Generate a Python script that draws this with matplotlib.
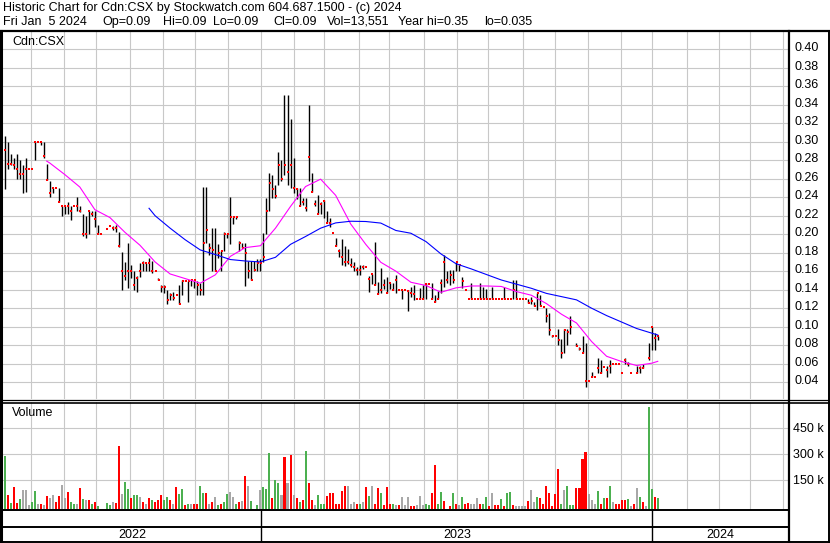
import matplotlib
matplotlib.use('Agg')
import matplotlib.pyplot as plt
from matplotlib.lines import Line2D
import numpy as np
import pandas as pd

plt.rcParams['font.family'] = 'Liberation Sans'
plt.rcParams['font.size'] = 9

nan = np.nan

# price bars, one entry per two trading days, from Fri May 6 2022 to Fri Jan 5 2024
hi = [.306, .300, .287, .282, .287, .280, .275, .282, .271, .271,
      .300, .300, .300, .300, .276, .258, .250, .250, .250, .231,
      .231, .235, .230, .230, .240, .231, .222, .220, .225, .225,
      .225, .210, .200, nan, .206, .209, .209, .210, .202, .181,
      .170, .191, .167, .160, .155, .169, .171, .169, .174, .171,
      .160, .153, .145, .145, .140, .136, .138, .134, .145, .151,
      .151, .149, .151, .151, .149, .147, .251, .251, .191, .207,
      .207, .189, .182, .202, .200, .240, .219, .219, .193, .191,
      .191, .171, .171, .171, .173, .173, .201, .239, .266, .264,
      .253, .289, .280, .351, .351, .325, .282, .250, .250, .239,
      .239, .340, .266, .237, .242, .235, .237, .225, .217, .201,
      .196, .184, .195, .187, .184, .174, .170, .165, .167, .167,
      .165, .155, .157, .192, .148, .163, .152, .154, .147, .147,
      .156, .140, .140, .140, .140, .143, .145, .130, .142, .145,
      .147, .146, .147, .134, .139, .152, .178, .160, .161, .161,
      .170, .167, .154, .140, .130, .147, .130, .130, .147, .143,
      .141, .130, .143, .130, .130, .130, .143, .130, .130, .150,
      .151, .130, .130, .130, .130, .132, .127, .136, .134, .121,
      .120, .115, .091, .090, .097, .087, .097, .097, .111, nan,
      .082, .078, .090, .082, .041, .051, .046, .066, .064, .056,
      .057, .064, .060, .060, .060, .050, .066, .062, .050, nan,
      .057, .057, .060, nan, .082, .100, .093, .090]
lo = [.249, .270, .275, .271, .260, .260, .245, .246, .271, .271,
      .280, .300, .296, .282, .259, .240, .245, .250, .235, .220,
      .222, .222, .215, .230, .225, .224, .198, .196, .200, .220,
      .208, .200, .200, nan, .206, .209, .205, .202, .186, .140,
      .150, .142, .153, .140, .138, .154, .160, .160, .160, .158,
      .160, .150, .138, .136, .125, .129, .129, .134, .124, .134,
      .149, .127, .144, .142, .134, .134, .134, .190, .178, .160,
      .160, .174, .160, .182, .196, .189, .211, .216, .182, .185,
      .144, .153, .151, .160, .160, .160, .170, .200, .225, .239,
      .239, .253, .257, .264, .253, .250, .245, .238, .231, .232,
      .225, .257, .246, .230, .222, .222, .218, .212, .208, .201,
      .187, .175, .167, .166, .168, .165, .160, .156, .156, .162,
      .165, .137, .146, .145, .135, .136, .141, .136, .141, .140,
      .136, .140, .130, .140, .117, .132, .129, .130, .130, .130,
      .130, .146, .130, .127, .130, .136, .143, .147, .145, .147,
      .160, .160, .142, .140, .130, .130, .130, .130, .130, .130,
      .130, .130, .130, .130, .130, .130, .130, .130, .130, .130,
      .130, .130, .130, .130, .126, .125, .122, .118, .122, .121,
      .105, .091, .089, .090, .080, .066, .071, .080, .092, nan,
      .079, .075, .071, .035, .041, .046, .046, .050, .050, .056,
      .046, .050, .060, .060, .060, .050, .060, .057, .050, nan,
      .050, .050, .055, nan, .064, .075, .075, .086]
cl = [.291, .276, .276, .275, .270, .265, .265, .271, .271, .271,
      .300, .300, .300, .285, .259, .245, .250, .250, .235, .230,
      .230, .230, .225, .230, .230, .225, .200, .200, .225, .222,
      .216, .200, .200, nan, .206, .209, .207, .207, .187, .160,
      .155, .160, .160, .145, .153, .160, .169, .169, .169, .160,
      .160, .150, .143, .143, .129, .134, .131, .134, .124, .149,
      .149, .149, .150, .150, .145, .140, .191, .205, .185, .183,
      .160, .180, .182, .200, .200, .219, .219, .219, .191, .185,
      .180, .160, .151, .161, .169, .169, .175, .225, .255, .249,
      .241, .275, .260, .275, .267, .275, .250, .249, .231, .235,
      .228, .283, .246, .233, .222, .233, .236, .212, .212, .201,
      .187, .182, .175, .170, .170, .167, .165, .161, .161, .165,
      .165, .152, .157, .145, .135, .140, .145, .136, .147, .140,
      .150, .140, .140, .140, .139, .136, .135, .130, .130, .130,
      .146, .146, .130, .127, .130, .147, .170, .150, .156, .150,
      .170, .167, .149, .140, .130, .130, .130, .130, .130, .130,
      .130, .130, .130, .130, .130, .130, .130, .130, .130, .140,
      .130, .130, .130, .130, .126, .128, .122, .136, .122, .121,
      .112, .096, .090, .090, .086, .071, .096, .094, .100, nan,
      .079, .076, .071, .041, .041, .046, .046, .055, .050, .056,
      .053, .058, .060, .060, .060, .050, .064, .060, .050, nan,
      .050, .055, .055, nan, .066, .100, .0875, .090]

# volume in thousands, colour g = up, r = down, n = unchanged
vol = [288, 62, 17, 110, 17, 40, 94, 94, 5, 23,
       90, 11, 11, 8, 58, 50, 63, 23, 58, 125,
       50, 81, 27, 11, 11, 104, 42, 38, 38, 11,
       23, 4, 0, 0, 17, 8, 23, 19, 348, 71,
       140, 100, 50, 63, 62, 56, 27, 11, 50, 37,
       23, 37, 65, 35, 52, 37, 15, 110, 69, 100,
       8, 15, 11, 11, 11, 115, 79, 75, 11, 23,
       52, 8, 11, 23, 71, 85, 52, 11, 23, 31,
       173, 117, 31, 0, 5, 92, 113, 100, 308, 46,
       150, 137, 65, 285, 133, 294, 65, 46, 23, 37,
       319, 137, 37, 8, 65, 11, 15, 58, 75, 79,
       11, 11, 88, 117, 117, 11, 23, 11, 11, 23,
       112, 60, 115, 11, 104, 75, 5, 110, 11, 11,
       5, 8, 52, 8, 52, 4, 4, 8, 60, 8,
       11, 5, 75, 237, 11, 85, 31, 0, 4, 75,
       11, 5, 52, 11, 21, 11, 11, 46, 11, 11,
       52, 4, 75, 5, 8, 40, 4, 79, 81, 5,
       4, 4, 4, 4, 31, 92, 27, 52, 46, 11,
       119, 79, 4, 69, 213, 11, 92, 119, 8, 8,
       104, 104, 271, 313, 69, 35, 11, 88, 15, 46,
       46, 117, 23, 11, 15, 38, 38, 42, 4, 15,
       104, 52, 23, 4, 573, 98, 56, 46]
vcol = ("grgrrgnnng" "gnrnrnnrrn" "nrggnrgnrg" "rgnnggnrrn"
        "ggrggnrnrg" "rrrggrnrgg" "rgnrrggrnr" "ngrggnngrn"
        "rngngngggr" "ggnrnrnrgr" "grrngggrrr" "rrrrnnnrgn"
        "rgnrrgrrrg" "nrnnnrrnnn" "ggrrggrnrg" "rngrrnnnrg"
        "grnrrgrggr" "nnnnrnngrr" "rrrrrgnggg" "rrrrnnngrg"
        "rgnrrrrgnr" "ngrnggrg")

# moving averages, at bin numbers
fast_bin = [14, 15, 20, 25, 30, 35, 40, 45, 50, 55, 60, 65, 70, 75, 80, 85,
            90, 95, 100, 105, 110, 115, 120, 125, 130, 135, 140, 145, 150,
            155, 160, 165, 170, 175, 180, 185, 190, 195, 200, 205, 210, 215, 217]
fast_ma = [.279, .277, .2645, .251, .2265, .218, .202, .188, .170, .157, .152,
           .147, .156, .176, .1855, .1875, .2065, .230, .2515, .2595, .242,
           .211, .189, .1696, .160, .148, .1445, .1372, .142, .144, .144,
           .1435, .138, .134, .125, .1135, .104, .084, .068, .0623, .058,
           .0605, .0625]
slow_bin = [48, 50, 55, 60, 65, 70, 75, 80, 85, 90, 95, 100, 105, 110, 115,
            120, 125, 130, 135, 140, 145, 150, 155, 160, 165, 170, 175, 180,
            185, 190, 195, 200, 205, 210, 215, 217]
slow_ma = [.228, .220, .2065, .194, .183, .178, .1726, .171, .170, .175, .189,
           .1975, .2065, .2122, .214, .2137, .212, .204, .201, .192, .1786,
           .168, .1625, .1565, .1505, .146, .1415, .136, .1325, .129, .120,
           .112, .105, .098, .093, .091]

price_ticks = [0.04, 0.06, 0.08, 0.10, 0.12, 0.14, 0.16, 0.18, 0.20, 0.22,
               0.24, 0.26, 0.28, 0.30, 0.32, 0.34, 0.36, 0.38, 0.40]
vol_ticks = [150, 300, 450]
years = ['2022', '2023', '2024']
title = 'Historic Chart for Cdn:CSX by Stockwatch.com 604.687.1500 - (c) 2024'
quote = ['Fri Jan  5 2024', 'Op=0.09', 'Hi=0.09', 'Lo=0.09', 'Cl=0.09',
         'Vol=13,551', 'Year hi=0.35', 'lo=0.035']
quote_x = [3, 102, 163, 213, 273, 327, 398, 484]

W, H = 830, 543
days = pd.bdate_range('2022-05-06', '2024-05-31')
idx = pd.Series(np.arange(len(days)), index=days)
month_pos = idx.groupby([days.year, days.month]).first().values[1:]
year_pos = [0, idx['2023-01-02'], idx['2024-01-01'], 521.7]
t = np.arange(len(cl)) * 2 + 0.5
xlim = (-0.53, 521.7)

vcolors = {'g': '#4cb050', 'r': '#ff0000', 'n': '#a8a8a8'}
grid = '#c8c8c8'

fig = plt.figure(figsize=(W / 100, H / 100), dpi=100)


def box(x0, y0, x1, y1):
    return [x0 / W, 1 - y1 / H, (x1 - x0) / W, (y1 - y0) / H]


def hline(y, x0, x1, lw=1.0):
    fig.add_artist(Line2D([x0 / W, x1 / W], [1 - y / H, 1 - y / H],
                          transform=fig.transFigure, color='black', lw=lw))


def vline(x, y0, y1, lw=1.0):
    fig.add_artist(Line2D([x / W, x / W], [1 - y0 / H, 1 - y1 / H],
                          transform=fig.transFigure, color='black', lw=lw))


# price panel
ax = fig.add_axes(box(3, 32, 789, 399))
ax.axis('off')
ax.set_xlim(*xlim)
ax.set_ylim(0.0218, 0.4186)
for p in price_ticks:
    ax.axhline(p, color=grid, lw=0.8, zorder=0)
for m in month_pos:
    ax.axvline(m, color=grid, lw=0.8, zorder=0)
ax.vlines(t, lo, hi, color='black', lw=1.0, zorder=2)
ax.plot(t + 0.3, cl, ls='none', marker='s', ms=1.5, mew=0, color='#ff0000', zorder=3)
ax.plot(t[fast_bin], fast_ma, color='#ff00ff', lw=0.8, zorder=4)
ax.plot(t[slow_bin], slow_ma, color='#0000ff', lw=0.8, zorder=4)
ax.text(9 / 786, 1 - 10 / 367, 'Cdn:CSX', transform=ax.transAxes, va='center', ha='left')

# volume panel
av = fig.add_axes(box(3, 402, 789, 509))
av.axis('off')
av.set_xlim(*xlim)
av.set_ylim(-16, 602)
for v in vol_ticks:
    av.axhline(v, color=grid, lw=0.8, zorder=0)
for m in month_pos:
    av.axvline(m, color=grid, lw=0.8, zorder=0)
vv = np.array(vol, dtype=float)
keep = vv > 0
av.bar(t[keep], vv[keep] + 16, bottom=-16, width=1.35,
       color=[vcolors[c] for c, k in zip(vcol, keep) if k], zorder=2)
av.text(9 / 786, 1 - 11 / 107, 'Volume', transform=av.transAxes, va='center', ha='left')

# year strip
ay = fig.add_axes(box(3, 509, 789, 542))
ay.axis('off')
ay.set_xlim(*xlim)
ay.set_ylim(0, 1)
for i, y in enumerate(years):
    ay.text((year_pos[i] + year_pos[i + 1]) / 2, 0.22, y, ha='center', va='center')
for x in year_pos[1:3]:
    ay.axvline(x, color='black', lw=1.0)

# right hand labels
for p in price_ticks:
    y = 141.7 + (0.30 - p) * 925 - 1
    fig.text(794 / W, 1 - y / H, f'{p:.2f}', va='center', ha='left')
for v in vol_ticks:
    y = 506.5 - v * 26 / 150
    fig.text(793 / W, 1 - y / H, f'{v} k', va='center', ha='left')

# header
fig.text(3 / W, 1 - 8.5 / H, title, va='center', ha='left')
for s, x in zip(quote, quote_x):
    fig.text(x / W, 1 - 22 / H, s, va='center', ha='left')

# frame lines
hline(31, 0, W, 1.6)
hline(399.5, 0, W, 0.9)
hline(402.5, 0, W, 1.2)
hline(509.5, 0, 789, 1.4)
hline(526.5, 0, 789, 1.4)
hline(541.5, 0, W, 1.4)
vline(1, 31, H, 2.2)
vline(789, 31, H, 1.6)
vline(828.5, 31, H, 1.4)

fig.savefig('out.png', dpi=100)
